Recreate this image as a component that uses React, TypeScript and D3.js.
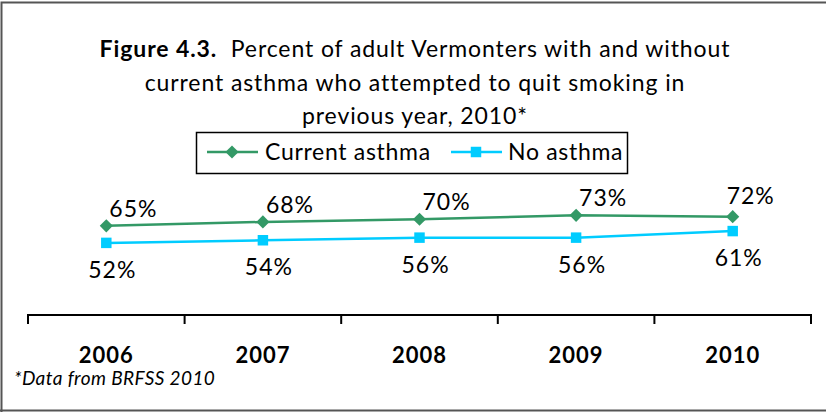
import React, { useEffect } from "react";
import * as d3 from "d3";

const years = ["2006", "2007", "2008", "2009", "2010"];
const currentAsthma = [65, 68, 70, 73, 72];
const noAsthma = [52, 54, 56, 56, 61];
const seriesNames = ["Current asthma", "No asthma"];
const titleBold = "Figure 4.3.";
const titleLines = [
  "  Percent of adult Vermonters with and without",
  "current asthma who attempted to quit smoking in",
  "previous year, 2010*",
];
const footnote = "*Data from BRFSS 2010";

const W = 826;
const H = 412;
const GREEN = "#339966";
const BLUE = "#00CCFF";
const FONT = "Lato, 'Open Sans', sans-serif";

export default function App() {
  useEffect(() => {
    document.body.style.margin = "0";
  }, []);

  const x = d3.scaleBand<string>().domain(years).range([28, 811]);
  const y = d3.scaleLinear().domain([0, 100]).range([311, 180]);
  const cx = (d: string) => (x(d) as number) + x.bandwidth() / 2;

  const line = d3
    .line<number>()
    .x((_, i) => cx(years[i]))
    .y((v) => y(v));

  const diamond = d3.symbol().type(d3.symbolDiamond2).size(110)();
  const square = d3.symbol().type(d3.symbolSquare).size(110)();

  const tickXs = [...years.map((d) => x(d) as number), 811];

  return (
    <svg width={W} height={H} style={{ display: "block", fontFamily: FONT }}>
      <rect x={0} y={0} width={W} height={H} fill="#fff" />
      {/* frame */}
      <path d={`M1.5,${H + 2} V2.5 H${W + 2}`} fill="none" stroke="#555" strokeWidth={2} />
      <path d={`M0,410.5 H${W}`} fill="none" stroke="#555" strokeWidth={2} />

      {/* title */}
      <g fontSize={23} fill="#000" textAnchor="middle" letterSpacing={0.9}>
        <text x={415} y={57} style={{ whiteSpace: "pre" }}>
          <tspan fontWeight="bold">{titleBold}</tspan>
          <tspan>{titleLines[0]}</tspan>
        </text>
        <text x={415} y={91}>{titleLines[1]}</text>
        <text x={415} y={124}>{titleLines[2]}</text>
      </g>

      {/* legend */}
      <rect x={196.5} y={132.5} width={431} height={41} fill="#fff" stroke="#000" strokeWidth={1.5} />
      <line x1={207} x2={258} y1={152} y2={152} stroke={GREEN} strokeWidth={2.5} />
      <path d={diamond} transform="translate(232,152)" fill={GREEN} />
      <text x={265} y={160} fontSize={23} letterSpacing={0.7} fill="#000">{seriesNames[0]}</text>
      <line x1={451} x2={502} y1={152} y2={152} stroke={BLUE} strokeWidth={2.5} />
      <path d={square} transform="translate(476,152)" fill={BLUE} />
      <text x={508} y={160} fontSize={23} letterSpacing={0.7} fill="#000">{seriesNames[1]}</text>

      {/* series */}
      <path d={line(currentAsthma) || ""} fill="none" stroke={GREEN} strokeWidth={2.5} />
      <path d={line(noAsthma) || ""} fill="none" stroke={BLUE} strokeWidth={2.5} />
      {currentAsthma.map((v, i) => (
        <path key={"d" + i} d={diamond} transform={`translate(${cx(years[i])},${y(v)})`} fill={GREEN} />
      ))}
      {noAsthma.map((v, i) => (
        <path key={"s" + i} d={square} transform={`translate(${cx(years[i])},${y(v)})`} fill={BLUE} />
      ))}

      {/* labels */}
      <g fontSize={23} letterSpacing={1} fill="#000">
        {currentAsthma.map((v, i) => {
          const last = i === currentAsthma.length - 1;
          return (
            <text
              key={"lc" + i}
              x={cx(years[i]) + (last ? 18 : 3)}
              y={y(v) + (last ? -13 : -9)}
              textAnchor={last ? "middle" : "start"}
            >
              {v}%
            </text>
          );
        })}
        {noAsthma.map((v, i) => (
          <text key={"ln" + i} x={cx(years[i]) + 6} y={y(v) + 35} textAnchor="middle">
            {v}%
          </text>
        ))}
      </g>

      {/* axis */}
      <line x1={28} x2={811} y1={315} y2={315} stroke="#000" strokeWidth={2} />
      {tickXs.map((t, i) => (
        <line key={"t" + i} x1={t} x2={t} y1={314} y2={324} stroke="#000" strokeWidth={2} />
      ))}
      {years.map((d) => (
        <text key={"y" + d} x={cx(d)} y={363} textAnchor="middle" fontSize={22} letterSpacing={1} fontWeight="bold" fill="#000">
          {d}
        </text>
      ))}

      <text x={14} y={385} fontSize={19} letterSpacing={0.4} fontStyle="italic" fill="#000">
        {footnote}
      </text>
    </svg>
  );
}
